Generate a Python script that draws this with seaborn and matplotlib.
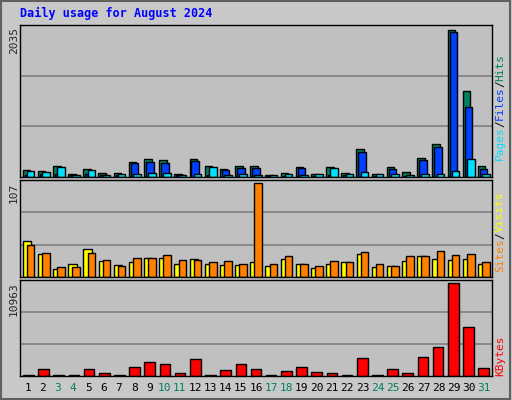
#!/usr/bin/env python3
"""
Daily usage chart (webalizer style) for August 2024
"""
import numpy as np
import matplotlib
matplotlib.use("Agg")
import matplotlib.pyplot as plt
import seaborn as sns

days = list(range(1, 32))
weekend = {3, 4, 10, 11, 17, 18, 24, 25, 31}

hits = [101, 87, 156, 46, 115, 60, 60, 211, 253, 239, 46, 253, 156, 115, 156, 156,
        32, 60, 142, 46, 142, 60, 390, 46, 142, 74, 266, 459, 2035, 1190, 156]
files = [32, 46, 46, 32, 46, 32, 32, 197, 211, 197, 32, 225, 32, 101, 129, 129,
         18, 18, 129, 18, 32, 32, 349, 18, 115, 18, 239, 418, 2003, 969, 115]
pages = [87, 74, 142, 32, 101, 32, 46, 46, 60, 60, 32, 46, 142, 32, 46, 32,
         32, 46, 32, 46, 129, 46, 74, 46, 46, 32, 46, 46, 87, 253, 46]
visits = [36, 27, 11, 11, 27, 19, 12, 22, 22, 25, 19, 19, 17, 18, 15, 107,
          15, 24, 15, 13, 18, 17, 29, 15, 13, 24, 24, 30, 25, 26, 17]
sites = [41, 26, 9, 15, 32, 18, 14, 17, 22, 22, 15, 20, 15, 14, 14, 17,
         12, 21, 15, 10, 15, 17, 26, 11, 12, 18, 24, 21, 19, 21, 15]
kbytes = [160, 880, 160, 160, 880, 400, 160, 1120, 1600, 1360, 400, 1960, 160, 760, 1360, 880,
          160, 640, 1120, 520, 400, 160, 2080, 160, 880, 400, 2200, 3400, 10963, 5800, 1000]

sns.set_style("white")
plt.rcParams['font.family'] = ['DejaVu Sans Mono', 'DejaVu Sans']

W, H = 512, 400
fig = plt.figure(figsize=(W / 100, H / 100), dpi=100, facecolor="#c8c8c8")
x = np.array(days)

# outer frame
frame = fig.add_axes([0.002, 0.003, 0.995, 0.994])
frame.set_facecolor("none")
frame.set_xticks([])
frame.set_yticks([])
for s in frame.spines.values():
    s.set_color("#606060")
    s.set_linewidth(1.5)

def panel(top, bottom):
    ax = fig.add_axes([20 / W, 1 - bottom / H, 472 / W, (bottom - top) / H])
    ax.set_facecolor("#c0c0c0")
    ax.set_xlim(0.45, 31.55)
    ax.set_xticks([])
    ax.set_yticks([])
    for s in ax.spines.values():
        s.set_color("black")
        s.set_linewidth(1)
    return ax

def grid(ax, vmax):
    ax.set_ylim(0, vmax * 1.035)
    for f in (1 / 3, 2 / 3):
        ax.axhline(vmax * 1.035 * f, color="#808080", lw=1.2, zorder=0)

kw = dict(edgecolor="black", linewidth=1, zorder=2)

ax1 = panel(25, 177)
grid(ax1, max(hits))
ax1.bar(x - 0.13, hits, width=0.5, color="#008060", **kw)
ax1.bar(x, files, width=0.5, color="#0040ff", **kw)
ax1.bar(x + 0.15, pages, width=0.5, color="#00e0ff", **kw)

ax2 = panel(180, 277)
grid(ax2, max(visits))
ax2.bar(x - 0.1, sites, width=0.55, color="#ffff00", **kw)
ax2.bar(x + 0.15, visits, width=0.5, color="#ff8000", **kw)

ax3 = panel(280, 376)
grid(ax3, max(kbytes))
sns.barplot(x=np.array(days) - 1, y=kbytes, ax=ax3, color="#ff0000", saturation=1,
            width=0.7, edgecolor="black", linewidth=1, native_scale=True, zorder=2)
ax3.set_xlim(-0.55, 30.55)
ax3.set_xticks([])
ax3.set_yticks([])

# title and side labels
fig.text(20 / W, 1 - 13 / H, "Daily usage for August 2024", color="#0000ff",
         fontsize=8.5, fontweight="bold", va="center")
for val, ytop in (("2035", 27), ("107", 183), ("10963", 282)):
    fig.text(14 / W, 1 - ytop / H, val, rotation=90, fontsize=8, va="top", ha="center")

def side(parts, ybottom):
    y = ybottom
    cw = 6.6
    for txt, col in parts:
        fig.text(500 / W, 1 - y / H, txt, rotation=90, color=col, fontsize=8,
                 ha="center", va="bottom")
        y -= cw * len(txt)

side([("Pages", "#00e0ff"), ("/", "black"), ("Files", "#0040ff"), ("/", "black"),
      ("Hits", "#008060")], 160)
side([("Sites", "#ff8000"), ("/", "black"), ("Visits", "#ffff00")], 272)
side([("KBytes", "#ff0000")], 376)

xs = np.linspace(20 + 472 / 31 / 2, 492 - 472 / 31 / 2, 31)
for d, xp in zip(days, xs):
    fig.text(xp / W, 1 - 388 / H, str(d), fontsize=8, ha="center", va="center",
             color="#008060" if d in weekend else "black")

plt.savefig("out.png", dpi=100, facecolor=fig.get_facecolor())
